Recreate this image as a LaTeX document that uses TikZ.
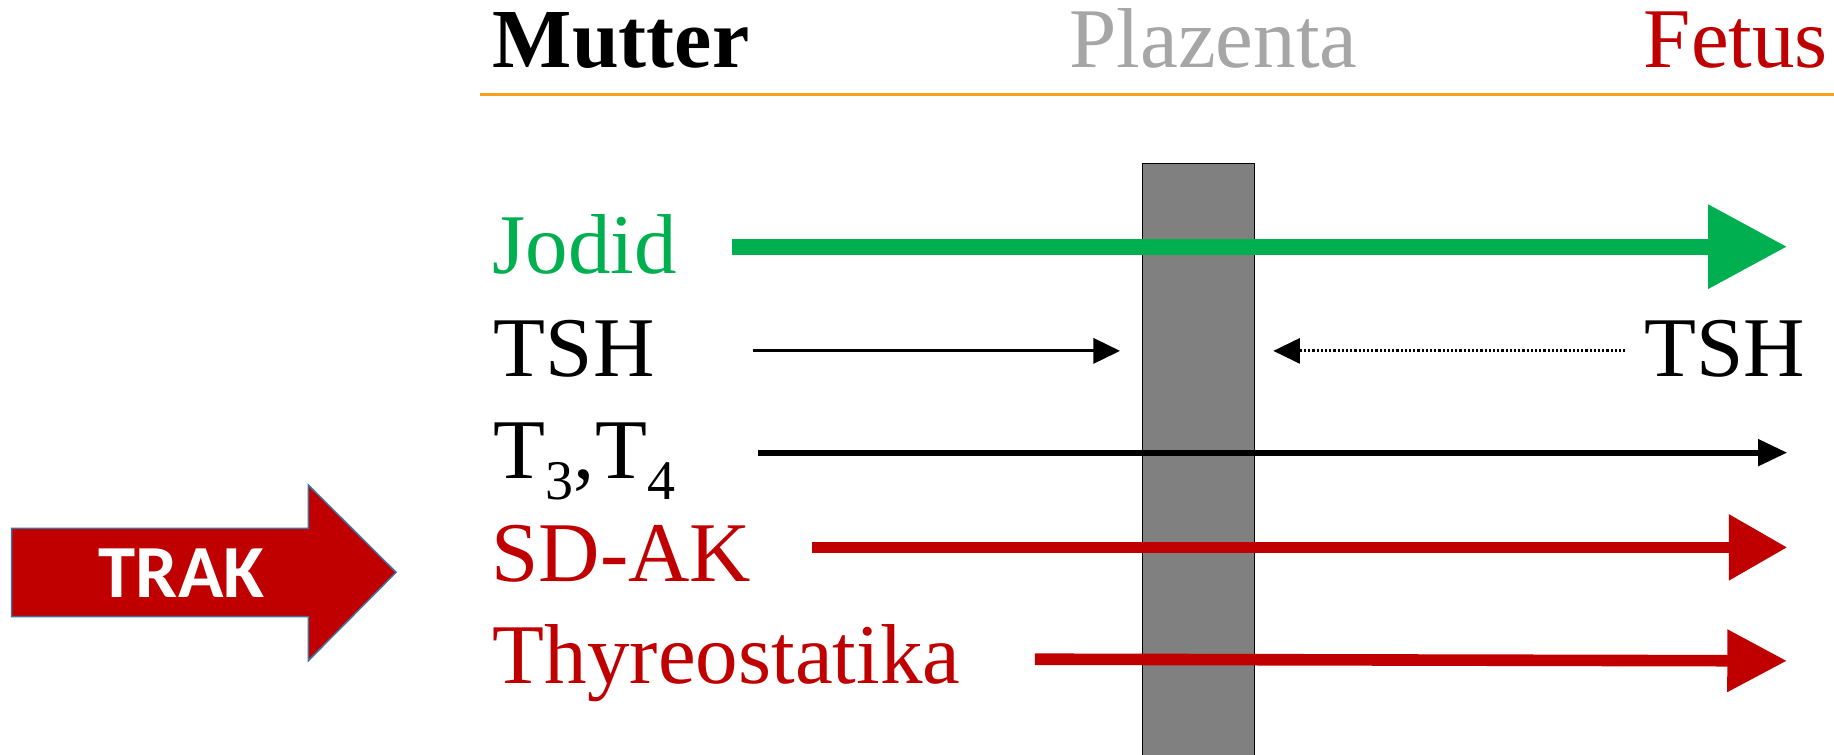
\documentclass[tikz,border=0pt]{standalone}
\usepackage{fontspec}
\setmainfont{Liberation Serif}
\newfontfamily\labelsans{Carlito}
\usetikzlibrary{arrows.meta}

\definecolor{iodgreen}{RGB}{0,176,80}
\definecolor{deepred}{RGB}{192,0,0}
\definecolor{softgray}{RGB}{166,166,166}
\definecolor{ruleorange}{RGB}{247,160,28}
\definecolor{outlineblue}{RGB}{65,113,156}
\definecolor{bargray}{RGB}{128,128,128}

\begin{document}
\begin{tikzpicture}[x=0.5848pt,y=-0.5848pt,
  txt/.style={anchor=base west,inner sep=0pt,font=\fontsize{42.5}{51}\selectfont},
  head/.style={font=\fontsize{42.5}{51}\selectfont},
  flow/.style={line cap=butt},
]
\useasboundingbox (0,0) rectangle (1568,645);

% column headings and rule
\node[txt,font=\fontsize{42}{51}\selectfont\bfseries] (mutter) at (421,57.5) {Mutter};
\node[txt,text=softgray] (plazenta) at (914,57.5) {Plazenta};
\node[txt,text=deepred] (fetus) at (1405,57.5) {Fetus};
\coordinate (ruleL) at (410,80.7);
\coordinate (ruleR) at (1568,80.7);
\draw[ruleorange,line width=1.2pt] (ruleL) -- (ruleR);

% placental barrier
\draw[fill=bargray,draw=black,line width=0.6pt] (976.5,140) rectangle (1072.5,650);

% substance labels
\node[txt,text=iodgreen] (jodid) at (421,233.5) {Jodid};
\node[txt] (tshM) at (422,322) {TSH};
\node[txt] (tshF) at (1405.5,322) {TSH};
\node[txt] (thyro) at (422,409) {T\raisebox{-10.8pt}{\fontsize{28}{30}\selectfont 3},T\raisebox{-10.8pt}{\fontsize{28}{30}\selectfont 4}};
\node[txt,text=deepred] (sdak) at (420,497) {SD-AK};
\node[txt,text=deepred] (thyreo) at (421,584) {Thyreostatika};

% transfer arrows
\coordinate (jodS) at (626,210.9);  \coordinate (jodE) at (1528,210.9);
\coordinate (tshMS) at (643.5,300); \coordinate (tshME) at (957.6,300);
\coordinate (tshFS) at (1389.6,300); \coordinate (tshFE) at (1088.6,300);
\coordinate (thyS) at (648.4,387);  \coordinate (thyE) at (1528,387);
\coordinate (sdS) at (694,468);     \coordinate (sdE) at (1528,468);
\coordinate (tsS) at (884.7,563.6); \coordinate (tsE) at (1527.7,565);

\draw[flow,iodgreen,line width=7.9pt,-{Triangle[length=39.5pt,width=40pt]}] (jodS) -- (jodE);
\draw[flow,black,line width=1.6pt,-{Triangle[length=13.3pt,width=12.5pt]}] (tshMS) -- (tshME);
\draw[flow,black,line width=1.5pt,dash pattern=on 1.05pt off 1.05pt,-{Triangle[length=13.3pt,width=12.5pt]}] (tshFS) -- (tshFE);
\draw[flow,black,line width=2.9pt,-{Triangle[length=14.6pt,width=12.9pt]}] (thyS) -- (thyE);
\draw[flow,deepred,line width=5.8pt,-{Triangle[length=29.2pt,width=31.6pt]}] (sdS) -- (sdE);
\draw[flow,deepred,line width=5.8pt,-{Triangle[length=29.8pt,width=29.8pt]}] (tsS) -- (tsE);

% TRAK block arrow
\draw[fill=deepred,draw=outlineblue,line width=0.75pt,line join=miter]
  (10,451.7) -- (263.6,451.7) -- (263.6,414.7) -- (338.6,489.3)
  -- (263.6,564.9) -- (263.6,527.2) -- (10,527.2) -- cycle;
\node[anchor=base,inner sep=0pt,text=white,font=\labelsans\bfseries\fontsize{37.5}{45}\selectfont] (trak) at (155.3,511) {TRAK};
\end{tikzpicture}
\end{document}
